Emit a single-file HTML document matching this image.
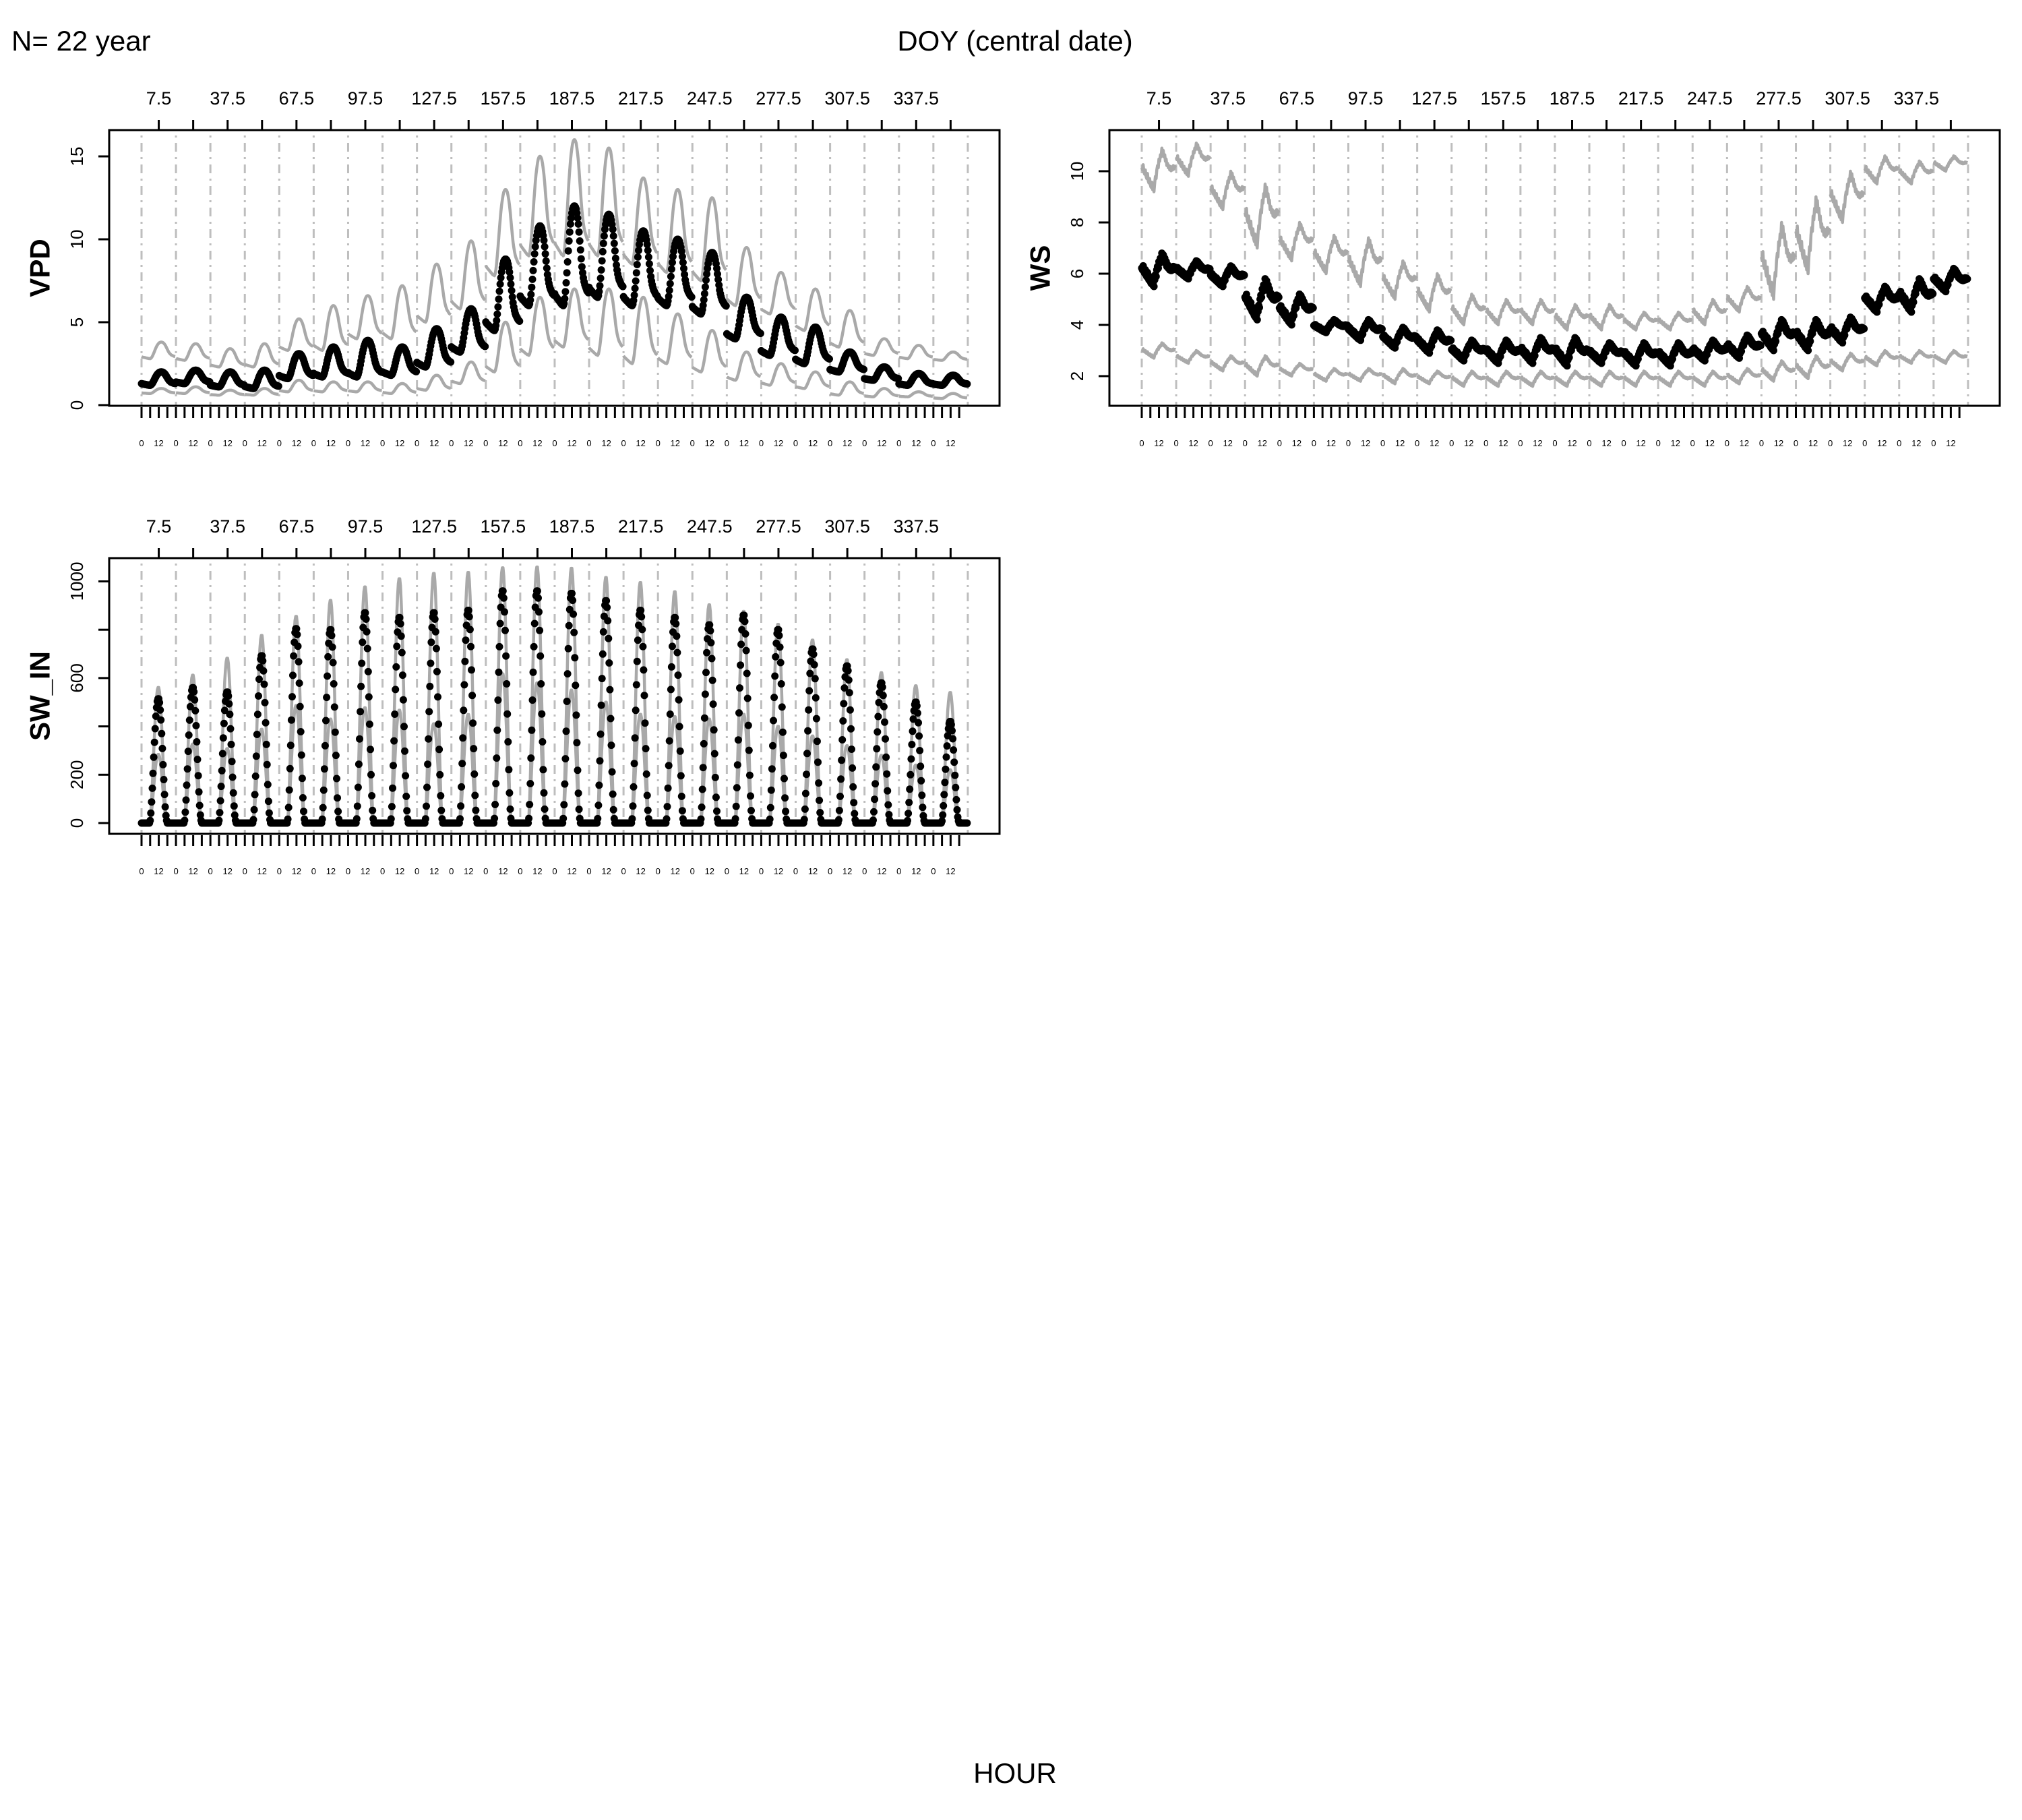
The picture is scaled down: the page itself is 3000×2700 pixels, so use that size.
<!DOCTYPE html>
<html><head><meta charset="utf-8"><style>
html,body{margin:0;padding:0;background:#fff;}
svg{display:block;font-family:"Liberation Sans",Arial,sans-serif;}
</style></head><body>
<svg id="chart" xmlns="http://www.w3.org/2000/svg" width="3000" height="2700" viewBox="0 0 3000 2700">
<rect x="0" y="0" width="3000" height="2700" fill="#fff"/>
<text x="17" y="75" font-size="42">N= 22 year</text>
<text x="1506" y="75" font-size="42" text-anchor="middle">DOY (central date)</text>
<text x="1506" y="2645" font-size="42" text-anchor="middle">HOUR</text>
<g id="plots"></g>
</svg>
<script>
const categories = ["7.5","22.5","37.5","52.5","67.5","82.5","97.5","112.5","127.5","142.5","157.5","172.5","187.5","202.5","217.5","232.5","247.5","262.5","277.5","292.5","307.5","322.5","337.5","352.5"];
const yTicksVPD = [0,5,10,15];
const yTicksWS = [2,4,6,8,10];
const yTicksSW = [0,200,400,600,800,1000];
const yLabelsSW = ["0","200","","600","","1000"];

const vpdMeanMin = [1.2,1.3,1.1,1.0,1.6,1.7,1.7,1.8,2.3,3.2,4.5,6.0,6.0,6.5,6.0,6.0,5.5,4.0,3.0,2.5,2.0,1.5,1.2,1.2];
const vpdMeanMax = [2.0,2.1,2.0,2.1,3.1,3.5,3.9,3.5,4.6,5.8,8.8,10.8,12.0,11.5,10.5,10.0,9.2,6.5,5.3,4.7,3.2,2.3,1.9,1.8];
const vpdUpMin = [2.8,2.7,2.3,2.3,3.3,3.3,4.0,4.0,5.0,5.8,7.8,9.0,9.0,9.0,8.5,8.0,7.5,6.0,5.5,4.5,3.5,3.0,2.8,2.7];
const vpdUpMax = [3.8,3.7,3.4,3.7,5.2,6.0,6.6,7.2,8.5,9.9,13.0,15.0,16.0,15.5,13.7,13.0,12.5,9.5,8.0,7.0,5.7,4.0,3.6,3.2];
const vpdLoMin = [0.7,0.7,0.6,0.6,0.8,0.8,0.8,0.7,0.9,1.3,2.0,3.0,3.5,3.0,2.5,2.5,2.0,1.5,1.2,1.0,0.6,0.5,0.5,0.4];
const vpdLoMax = [1.0,1.1,0.9,1.0,1.5,1.4,1.4,1.3,1.8,2.6,5.0,6.5,7.0,7.0,6.5,5.5,4.5,3.2,2.5,2.0,1.4,1.0,0.8,0.7];

const wsMeanMin = [5.5,5.8,5.5,4.2,4.0,3.7,3.4,3.1,2.9,2.6,2.5,2.5,2.4,2.5,2.4,2.4,2.6,2.7,3.0,3.0,3.3,4.5,4.5,5.3];
const wsMeanMax = [6.8,6.5,6.3,5.8,5.2,4.2,4.2,3.9,3.8,3.4,3.4,3.5,3.5,3.3,3.3,3.3,3.4,3.6,4.2,4.2,4.3,5.5,5.8,6.2];
const wsUpMin = [9.2,9.8,8.5,7.0,6.5,6.0,5.5,5.0,4.5,4.0,4.0,4.0,3.8,3.8,3.8,3.8,4.0,4.5,5.0,6.0,8.0,9.5,9.5,10.0];
const wsUpMax = [10.9,11.1,10.0,9.5,8.0,7.5,7.4,6.5,6.0,5.2,5.0,5.0,4.8,4.8,4.5,4.5,5.0,5.5,8.0,9.0,10.0,10.6,10.4,10.6];
const wsLoMin = [2.7,2.5,2.2,2.0,2.0,1.8,1.8,1.7,1.7,1.6,1.6,1.6,1.6,1.6,1.6,1.6,1.6,1.7,1.8,1.9,2.2,2.4,2.5,2.5];
const wsLoMax = [3.3,3.0,2.8,2.8,2.5,2.3,2.3,2.3,2.2,2.2,2.2,2.2,2.2,2.2,2.2,2.2,2.2,2.3,2.6,2.8,2.9,3.0,3.0,3.0];

const swMeanPeak = [514,560,542,692,804,800,870,850,870,880,960,960,950,920,880,850,820,860,800,720,650,580,500,420];
const swUpPeak = [561,612,682,776,855,921,977,1011,1033,1037,1056,1059,1054,1016,995,957,903,876,822,757,676,622,568,540];
const swLoPeak = [284,327,308,388,486,430,477,467,411,449,617,580,550,500,450,440,430,450,400,360,320,280,240,220];

const diurnalShape = [0.12,0.1,0.09,0.08,0.07,0.06,0.05,0.04,0.03,0.02,0.01,0.01,0,0.02,
 0.07,0.14,0.23,0.33,0.44,0.55,0.65,0.74,0.82,0.88,0.93,0.97,0.99,1,1,
 0.99,0.97,0.93,0.88,0.82,0.74,0.65,0.56,0.47,0.39,0.33,0.28,0.24,0.21,0.19,0.17,0.15,0.14,0.13];
const wsShape = [0.55,0.5,0.62,0.45,0.4,0.5,0.35,0.3,0.42,0.25,0.2,0.3,0.15,0.1,0.22,0.05,0.12,0.0,0.2,0.35,0.3,0.5,0.6,0.55,
 0.75,0.7,0.85,0.8,1.0,0.9,0.95,0.8,0.85,0.7,0.75,0.6,0.65,0.55,0.6,0.5,0.58,0.48,0.55,0.5,0.6,0.52,0.58,0.55];
const swShape = [0,0,0,0,0,0,0,0,0,0,0,0,
 0.02,0.08,0.17,0.28,0.4,0.53,0.65,0.76,0.86,0.93,0.98,1,1,0.97,0.91,0.83,0.72,0.6,0.47,0.35,0.23,0.13,0.06,0.02,0,
 0,0,0,0,0,0,0,0,0,0,0];

const NS = "http://www.w3.org/2000/svg";
const root = document.getElementById('plots');
const D = 51.08;
function mk(tag, attrs, parent){ const e=document.createElementNS(NS,tag); for(const k in attrs) e.setAttribute(k,attrs[k]); (parent||root).appendChild(e); return e; }

function panel(cfg){
  const g = mk('g',{});
  
  
  const xOf = (w,h) => cfg.bx0 + 48 + (w + h/48)*D;
  const yOf = v => cfg.yBase - (v - cfg.vBase)*cfg.k;
  for(let j=0;j<=24;j++){
    const x = cfg.bx0 + 48 + j*D;
    const l = mk('line',{x1:x,x2:x,y1:cfg.by0+8,y2:cfg.by1,stroke:'#BEBEBE','stroke-width':3,'stroke-dasharray':'3 8 13 8'},g);
    
    
  }
  [[cfg.upMin,cfg.upMax,'upper'],[cfg.loMin,cfg.loMax,'lower']].forEach(([mn,mx,nm])=>{
    for(let w=0;w<24;w++){
      let pts=[];
      for(let h=0;h<48;h++){ const v = mn[w] + (mx[w]-mn[w])*cfg.shape[h]; pts.push(xOf(w,h).toFixed(1)+','+yOf(v).toFixed(1)); }
      const p = mk('polyline',{points:pts.join(' '),fill:'none',stroke:'#A9A9A9','stroke-width':4.5,'stroke-linejoin':'round'},g);
      
      
    }
  });
  for(let w=0;w<24;w++){
    for(let h=0;h<48;h++){
      const v = cfg.meanMin[w] + (cfg.meanMax[w]-cfg.meanMin[w])*cfg.shape[h];
      const c = mk('circle',{cx:xOf(w,h).toFixed(1),cy:yOf(v).toFixed(1),r:5.5,fill:'#000'},g);
      
      
    }
  }
  const b = mk('rect',{x:cfg.bx0,y:cfg.by0,width:cfg.bx1-cfg.bx0,height:cfg.by1-cfg.by0,fill:'none',stroke:'#000','stroke-width':3},g);
  
  
  cfg.yTicks.forEach((t,i)=>{
    const y=yOf(t);
    mk('line',{x1:cfg.bx0-16,x2:cfg.bx0,y1:y,y2:y,stroke:'#000','stroke-width':3},g);
    const lab = cfg.yLabels ? cfg.yLabels[i] : String(t);
    if(lab){
      const tx = mk('text',{x:cfg.bx0-48,y:y,'font-size':26,'text-anchor':'middle',transform:`rotate(-90 ${cfg.bx0-48} ${y})`,'dominant-baseline':'central'},g);
      tx.textContent=lab;
      
      
    }
  });
  const yt = mk('text',{x:cfg.bx0-103,y:(cfg.by0+cfg.by1)/2,'font-size':42,'font-weight':'bold','text-anchor':'middle','dominant-baseline':'central',transform:`rotate(-90 ${cfg.bx0-103} ${(cfg.by0+cfg.by1)/2})`},g);
  yt.textContent=cfg.title;
  
  
  for(let w=0;w<24;w++){
    const x = xOf(w,24);
    mk('line',{x1:x,x2:x,y1:cfg.by0-15,y2:cfg.by0,stroke:'#000','stroke-width':3},g);
    if(w%2===0){
      const t = mk('text',{x:x,y:cfg.by0-38,'font-size':27,'text-anchor':'middle'},g);
      t.textContent=categories[w];
      
      
    }
  }
  for(let k=0;k<96;k++){
    const x = cfg.bx0 + 48 + k*D/4;
    mk('line',{x1:x,x2:x,y1:cfg.by1+2,y2:cfg.by1+18,stroke:'#000','stroke-width':3},g);
    if(k%2===0){
      const t = mk('text',{x:x,y:cfg.by1+60,'font-size':13,'text-anchor':'middle'},g);
      t.textContent = (k%4===0)?'0':'12';
      
      
    }
  }
}

panel({name:'vpd',title:'VPD',bx0:162,bx1:1483,by0:193,by1:602,yBase:601,vBase:0,k:24.6,yTicks:yTicksVPD,
  shape:diurnalShape,meanMin:vpdMeanMin,meanMax:vpdMeanMax,upMin:vpdUpMin,upMax:vpdUpMax,loMin:vpdLoMin,loMax:vpdLoMax});
panel({name:'ws',title:'WS',bx0:1646,bx1:2967,by0:193,by1:602,yBase:558,vBase:2,k:38,yTicks:yTicksWS,
  shape:wsShape,meanMin:wsMeanMin,meanMax:wsMeanMax,upMin:wsUpMin,upMax:wsUpMax,loMin:wsLoMin,loMax:wsLoMax});
const zeros = categories.map(()=>0);
panel({name:'sw-in',title:'SW_IN',bx0:162,bx1:1483,by0:828,by1:1237,yBase:1221,vBase:0,k:0.3585,yTicks:yTicksSW,yLabels:yLabelsSW,
  shape:swShape,meanMin:zeros,meanMax:swMeanPeak,upMin:zeros,upMax:swUpPeak,loMin:zeros,loMax:swLoPeak});
</script>
</body></html>
